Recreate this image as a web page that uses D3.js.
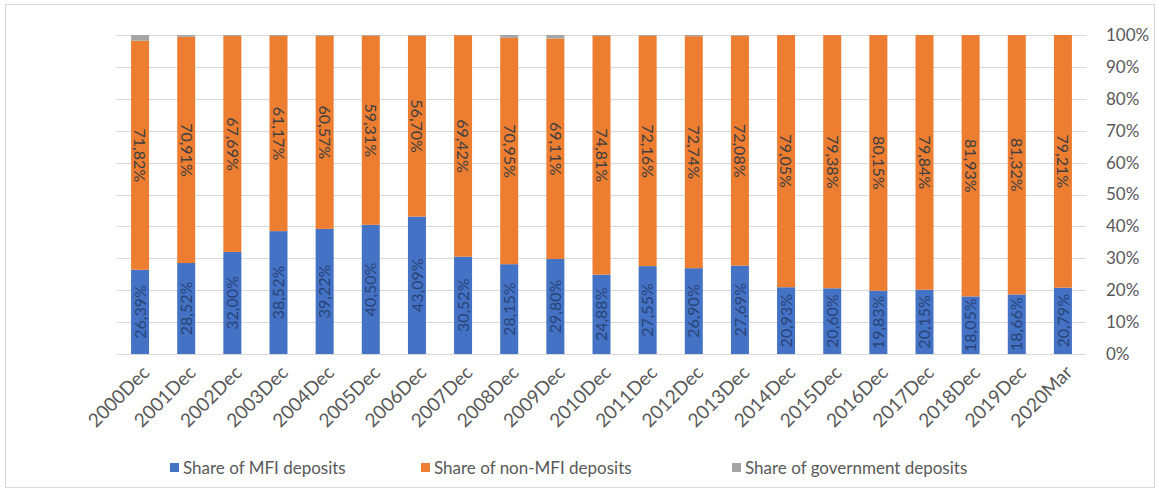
<!DOCTYPE html>
<html>
<head>
<meta charset="utf-8">
<script src="https://cdn.jsdelivr.net/npm/d3@7/dist/d3.min.js"></script>
<style>
  html, body { margin: 0; padding: 0; background: #ffffff; }
  svg { display: block; }
  text { font-family: Lato, "Open Sans", sans-serif; }
</style>
</head>
<body>
<svg id="chart" width="1159" height="492"></svg>
<script>
const categories = ["2000Dec","2001Dec","2002Dec","2003Dec","2004Dec","2005Dec","2006Dec","2007Dec","2008Dec","2009Dec","2010Dec","2011Dec","2012Dec","2013Dec","2014Dec","2015Dec","2016Dec","2017Dec","2018Dec","2019Dec","2020Mar"];
const mfiShare = [26.39, 28.52, 32.00, 38.52, 39.22, 40.50, 43.09, 30.52, 28.15, 29.80, 24.88, 27.55, 26.90, 27.69, 20.93, 20.60, 19.83, 20.15, 18.05, 18.66, 20.79];
const nonMfiShare = [71.82, 70.91, 67.69, 61.17, 60.57, 59.31, 56.70, 69.42, 70.95, 69.11, 74.81, 72.16, 72.74, 72.08, 79.05, 79.38, 80.15, 79.84, 81.93, 81.32, 79.21];
const govShare = [1.79, 0.57, 0.31, 0.31, 0.21, 0.19, 0.21, 0.06, 0.90, 1.09, 0.31, 0.29, 0.36, 0.23, 0.02, 0.02, 0.02, 0.01, 0.02, 0.02, 0.00];
const seriesNames = ["Share of MFI deposits", "Share of non-MFI deposits", "Share of government deposits"];
const yTicks = [0, 10, 20, 30, 40, 50, 60, 70, 80, 90, 100];

const colors = ["#4472C4", "#ED7D31", "#A5A5A5"];
const svg = d3.select("#chart");

// frame
svg.append("rect").attr("x", 5.5).attr("y", 4.5).attr("width", 1149).attr("height", 483)
  .attr("fill", "#fff").attr("stroke", "#d9d9d9");

const x = d3.scaleBand().domain(categories).range([117, 1086]).paddingInner(0.61).paddingOuter(0.305);
const y = d3.scaleLinear().domain([0, 100]).range([354, 35]);

// gridlines
svg.append("g").selectAll("line").data(yTicks).join("line")
  .attr("x1", 117).attr("x2", 1086)
  .attr("y1", d => Math.round(y(d)) + 0.5).attr("y2", d => Math.round(y(d)) + 0.5)
  .attr("stroke", "#d9d9d9").attr("stroke-width", 1);

// right axis
const yAxis = d3.axisRight(y).tickValues(yTicks).tickFormat(d => d + "%").tickSize(0).tickPadding(0);
const ya = svg.append("g").attr("transform", "translate(1106,0)").call(yAxis);
ya.select(".domain").remove();
ya.selectAll("text").attr("fill", "#595959").style("font-size", "17px").style("font-family", "Lato, sans-serif");

// stacked data
const rows = categories.map((c, i) => ({ cat: c, mfi: mfiShare[i], nonmfi: nonMfiShare[i], gov: govShare[i] }));
const keys = ["mfi", "nonmfi", "gov"];
const stack = d3.stack().keys(keys)(rows);

const g = svg.append("g");
stack.forEach((layer, li) => {
  g.append("g").selectAll("rect").data(layer).join("rect")
    .attr("x", d => x(d.data.cat))
    .attr("width", x.bandwidth())
    .attr("y", d => y(d[1]))
    .attr("height", d => y(d[0]) - y(d[1]))
    .attr("fill", colors[li]);
});

const fmt = v => v.toFixed(2).replace(".", ",") + "%";

// MFI labels (rotated -90)
g.append("g").selectAll("text").data(stack[0]).join("text")
  .attr("transform", d => `translate(${x(d.data.cat) + x.bandwidth() / 2},${(y(d[0]) + y(d[1])) / 2}) rotate(-90)`)
  .attr("text-anchor", "middle").attr("dy", "0.35em")
  .attr("fill", "#2a4478").style("font-size", "16px")
  .text(d => fmt(d.data.mfi));

// non-MFI labels (rotated 90)
g.append("g").selectAll("text").data(stack[1]).join("text")
  .attr("transform", d => `translate(${x(d.data.cat) + x.bandwidth() / 2},${(y(d[0]) + y(d[1])) / 2}) rotate(90)`)
  .attr("text-anchor", "middle").attr("dy", "0.35em")
  .attr("fill", "#404040").style("font-size", "16px")
  .text(d => fmt(d.data.nonmfi));

// x axis labels
const xAxis = d3.axisBottom(x).tickSize(0).tickPadding(0);
const xa = svg.append("g").attr("transform", "translate(0,0)").call(xAxis);
xa.select(".domain").remove();
xa.selectAll(".tick text")
  .attr("y", 0).attr("dy", "0.35em")
  .attr("transform", `translate(6,369) rotate(-45)`)
  .attr("text-anchor", "end")
  .attr("fill", "#595959").style("font-size", "19px").style("font-family", "Lato, sans-serif");

// legend
const legendX = [170, 421, 732];
const lg = svg.append("g");
seriesNames.forEach((name, i) => {
  lg.append("rect").attr("x", legendX[i]).attr("y", 463).attr("width", 9).attr("height", 9).attr("fill", colors[i]);
  lg.append("text").attr("x", legendX[i] + 13).attr("y", 468).attr("dy", "0.35em")
    .attr("fill", "#595959").style("font-size", "17px").text(name);
});
</script>
</body>
</html>
